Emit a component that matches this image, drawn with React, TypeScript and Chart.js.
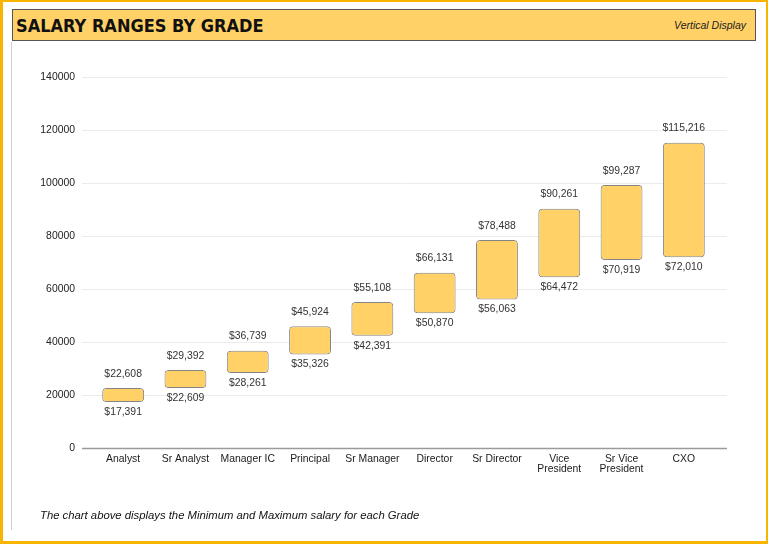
import React, { useEffect, useRef } from "react";
import { Chart, registerables } from "chart.js";

Chart.register(...registerables);

const categories: (string | string[])[] = [
  "Analyst",
  "Sr Analyst",
  "Manager IC",
  "Principal",
  "Sr Manager",
  "Director",
  "Sr Director",
  ["Vice", "President"],
  ["Sr Vice", "President"],
  "CXO",
];
const minSalary = [17391, 22609, 28261, 35326, 42391, 50870, 56063, 64472, 70919, 72010];
const maxSalary = [22608, 29392, 36739, 45924, 55108, 66131, 78488, 90261, 99287, 115216];
const yTicks = [0, 20000, 40000, 60000, 80000, 100000, 120000, 140000];

const FONT = "'Liberation Sans', Arial, sans-serif";
const fmt = (v: number) => "$" + v.toLocaleString("en-US");

const gridPlugin = {
  id: "wideGrid",
  beforeDatasetsDraw(chart: any) {
    const ctx = chart.ctx;
    const y = chart.scales.y;
    ctx.save();
    yTicks.forEach((v) => {
      const py = Math.round(y.getPixelForValue(v)) + 0.5;
      ctx.beginPath();
      ctx.strokeStyle = v === 0 ? "#9a9a9a" : "#ebebeb";
      ctx.lineWidth = v === 0 ? 1.5 : 1;
      ctx.moveTo(82, py);
      ctx.lineTo(727, py);
      ctx.stroke();
    });
    ctx.restore();
  },
};

const labelPlugin = {
  id: "rangeLabels",
  afterDatasetsDraw(chart: any) {
    const ctx = chart.ctx;
    const meta = chart.getDatasetMeta(0);
    ctx.save();
    ctx.font = "10.4px " + FONT;
    ctx.fillStyle = "#333";
    ctx.textAlign = "center";
    meta.data.forEach((bar: any, i: number) => {
      const top = Math.min(bar.y, bar.base);
      const bottom = Math.max(bar.y, bar.base);
      ctx.textBaseline = "bottom";
      ctx.fillText(fmt(maxSalary[i]), bar.x, top - 9);
      ctx.textBaseline = "top";
      ctx.fillText(fmt(minSalary[i]), bar.x, bottom + 5);
    });
    ctx.restore();
  },
};

export default function App() {
  const ref = useRef<HTMLCanvasElement | null>(null);
  useEffect(() => {
    document.body.style.margin = "0";
    if (!ref.current) return;
    const chart = new Chart(ref.current, {
      type: "bar",
      data: {
        labels: categories,
        datasets: [
          {
            data: minSalary.map((m, i) => [m, maxSalary[i]]) as any,
            backgroundColor: "#FFD166",
            borderColor: "#858585",
            borderWidth: 1,
            borderSkipped: false,
            borderRadius: 4,
            barPercentage: 0.8,
            categoryPercentage: 0.84,
          },
        ],
      },
      options: {
        animation: false,
        responsive: false,
        maintainAspectRatio: false,
        layout: { padding: { top: 77, left: 0, right: 53, bottom: 56 } },
        plugins: { legend: { display: false }, tooltip: { enabled: false } },
        scales: {
          x: {
            grid: { display: false, drawTicks: false },
            border: { display: false },
            ticks: {
              color: "#1a1a1a",
              font: { family: FONT, size: 10.4, lineHeight: 1.0 },
              padding: 6,
              maxRotation: 0,
              autoSkip: false,
            },
            afterFit: (s: any) => {
              s.height = 40;
            },
          },
          y: {
            min: 0,
            max: 140000,
            afterBuildTicks: (s: any) => {
              s.ticks = yTicks.map((v) => ({ value: v }));
            },
            grid: { display: false, drawTicks: false },
            border: { display: false },
            ticks: {
              color: "#222",
              font: { family: FONT, size: 10.4 },
              padding: 17,
              callback: (v: any) => String(v),
            },
            afterFit: (s: any) => {
              s.width = 92;
            },
          },
        },
      },
      plugins: [gridPlugin, labelPlugin],
    });
    return () => chart.destroy();
  }, []);

  return (
    <div style={{ position: "relative", width: 768, height: 544, overflow: "hidden", background: "#fff" }}>
      <canvas ref={ref} width={768} height={544} style={{ position: "absolute", left: 0, top: 0 }} />
      <div
        style={{
          position: "absolute",
          left: 0,
          top: 0,
          width: 763,
          height: 539,
          borderLeft: "3px solid #F7B500",
          borderTop: "2px solid #F7B500",
          borderRight: "2px solid #F7B500",
          borderBottom: "3px solid #F7B500",
          pointerEvents: "none",
        }}
      />
      <div style={{ position: "absolute", left: 11, top: 42, width: 1, height: 488, background: "#cfcfcf" }} />
      <div
        style={{
          position: "absolute",
          left: 12,
          top: 9,
          width: 742,
          height: 30,
          background: "#FFD166",
          border: "1px solid #555",
        }}
      >
        <div
          style={{
            position: "absolute",
            left: 3,
            top: 5,
            fontFamily: "'DejaVu Sans Condensed', 'DejaVu Sans', sans-serif",
            fontStretch: "condensed",
            fontWeight: "bold",
            fontSize: 18,
            color: "#111",
            whiteSpace: "nowrap",
          }}
        >
          SALARY RANGES BY GRADE
        </div>
        <div
          style={{
            position: "absolute",
            right: 9,
            top: 9,
            fontFamily: FONT,
            fontStyle: "italic",
            fontSize: 10.5,
            color: "#222",
            whiteSpace: "nowrap",
          }}
        >
          Vertical Display
        </div>
      </div>
      <div
        style={{
          position: "absolute",
          left: 40,
          top: 509,
          fontFamily: FONT,
          fontStyle: "italic",
          fontSize: 11.3,
          color: "#111",
          whiteSpace: "nowrap",
        }}
      >
        The chart above displays the Minimum and Maximum salary for each Grade
      </div>
    </div>
  );
}
